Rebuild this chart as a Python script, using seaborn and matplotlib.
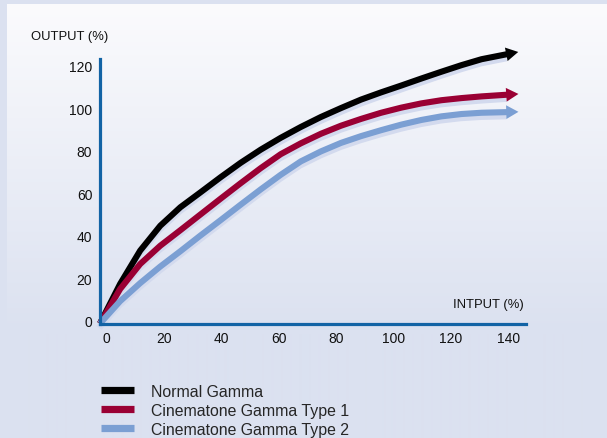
import numpy as np
import pandas as pd
import matplotlib
matplotlib.use("Agg")
import matplotlib.pyplot as plt
import matplotlib.patheffects as pe
from matplotlib.markers import MarkerStyle
from matplotlib.transforms import Affine2D, ScaledTranslation
from matplotlib.lines import Line2D
import seaborn as sns

# ---------------- data ----------------
input_pct = [0, 7, 14, 21, 28, 35, 42, 49, 56, 63, 70, 77, 84, 91, 98, 105, 112, 119, 126, 133, 142]
normal_gamma = [0, 18.6, 34.3, 46.0, 54.7, 61.7, 68.8, 75.6, 81.8, 87.4, 92.5, 97.2, 101.4, 105.4,
                108.8, 112.0, 115.3, 118.5, 121.6, 124.4, 126.8]
cine_type1 = [0, 16.2, 28.0, 36.6, 43.9, 51.3, 58.7, 66.0, 73.1, 79.7, 84.8, 89.3, 93.1, 96.3,
              99.2, 101.6, 103.6, 105.1, 106.1, 106.9, 107.7]
cine_type2 = [0, 10.5, 19.0, 26.8, 34.0, 41.4, 48.6, 55.9, 63.1, 70.0, 76.3, 81.0, 85.0, 88.2,
              91.0, 93.6, 95.8, 97.5, 98.6, 99.2, 99.5]
series_names = ["Normal Gamma", "Cinematone Gamma Type 1", "Cinematone Gamma Type 2"]
x_ticks = [0, 20, 40, 60, 80, 100, 120, 140]
y_ticks = [0, 20, 40, 60, 80, 100, 120]
x_label = "INTPUT (%)"
y_label = "OUTPUT (%)"

colors = ["#000000", "#9a0034", "#7b9fd3"]
BG = "#dbe1f0"
SHADOW = "#d3daee"
AXIS_C = "#1263a5"

df = pd.concat([
    pd.DataFrame({"input": input_pct, "output": vals, "series": name})
    for name, vals in zip(series_names, [normal_gamma, cine_type1, cine_type2])
], ignore_index=True)

sns.set_style("white")
plt.rcParams["font.family"] = ["Liberation Sans", "DejaVu Sans"]

W, H = 607, 439
fig = plt.figure(figsize=(W / 100, H / 100), dpi=100)
fig.patch.set_facecolor(BG)

# gradient panel
bg_ax = fig.add_axes([7 / W, 0, (W - 7) / W, (H - 5) / H], zorder=-10)
top = np.array([251, 251, 253]) / 255
bot = np.array([219, 225, 240]) / 255
n = 434
t = np.clip(np.linspace(0, 1, n) / (330 / 434), 0, 1)[:, None]
grad = (top * (1 - t) + bot * t)[:, None, :]
bg_ax.imshow(grad, aspect="auto", extent=[0, 1, 0, 1], interpolation="bilinear")
bg_ax.set_axis_off()

ax = fig.add_axes([100 / W, 1 - 324.5 / H, 426 / W, 264.5 / H])
ax.patch.set_alpha(0)

shadow_fx = [pe.SimpleLineShadow(offset=(-0.6, -3.0), shadow_color=SHADOW, alpha=1.0), pe.Normal()]

sns.lineplot(data=df, x="input", y="output", hue="series", hue_order=series_names,
             palette=colors, linewidth=4.4, legend=False, ax=ax, sort=False,
             estimator=None)
ax.set_xlim(0, 148.5)
ax.set_ylim(0, 124.5)
for line in ax.lines:
    line.set_solid_capstyle("butt")
    line.set_solid_joinstyle("round")
    line.set_clip_on(False)
    line.set_path_effects(shadow_fx)

# arrowheads oriented along final segment
head = [(-0.1, -0.62), (1.0, 0.0), (-0.1, 0.62), (-0.1, -0.62)]
for vals, c in zip([normal_gamma, cine_type1, cine_type2], colors):
    p1 = ax.transData.transform((input_pct[-2], vals[-2]))
    p2 = ax.transData.transform((input_pct[-1], vals[-1]))
    ang = np.degrees(np.arctan2(p2[1] - p1[1], p2[0] - p1[0]))
    m = MarkerStyle(head, transform=Affine2D().rotate_deg(ang))
    ax.plot([input_pct[-1]], [vals[-1]], marker=m, ms=16, mew=0, color=c,
            clip_on=False, linestyle="none",
            path_effects=[pe.SimpleLineShadow(offset=(-0.6, -3.0), shadow_color=SHADOW, alpha=1.0), pe.Normal()])

ax.set_xticks(x_ticks)
ax.set_yticks(y_ticks)
ax.set_xlabel("")
ax.set_ylabel("")
ax.tick_params(axis="both", length=0, labelsize=10, colors="#111111")
ax.tick_params(axis="x", pad=5.5)
ax.tick_params(axis="y", pad=5.5)
for lab in ax.get_xticklabels():
    lab.set_transform(lab.get_transform() + ScaledTranslation(6.5 / 100, 0, fig.dpi_scale_trans))
for lab in ax.get_yticklabels():
    lab.set_transform(lab.get_transform() + ScaledTranslation(0, 2.8 / 100, fig.dpi_scale_trans))

for s in ["top", "right"]:
    ax.spines[s].set_visible(False)
for s in ["left", "bottom"]:
    ax.spines[s].set_color(AXIS_C)
    ax.spines[s].set_linewidth(2.3)
ax.grid(False)

fig.text(31 / W, 1 - 37 / H, y_label, ha="left", va="center", fontsize=9.4, color="#111111")
fig.text(524 / W, 1 - 305 / H, x_label, ha="right", va="center", fontsize=9.4, color="#111111")

handles = [Line2D([], [], color=c, lw=5.2, solid_capstyle="butt") for c in colors]
fig.legend(handles, series_names, loc="upper left", bbox_to_anchor=(100.5 / W, 1 - 385 / H),
           frameon=False, fontsize=11.4, handlelength=2.1, handletextpad=1.07,
           labelspacing=0.24, borderaxespad=0, borderpad=0)

fig.savefig("out.png", dpi=100, facecolor=BG)
